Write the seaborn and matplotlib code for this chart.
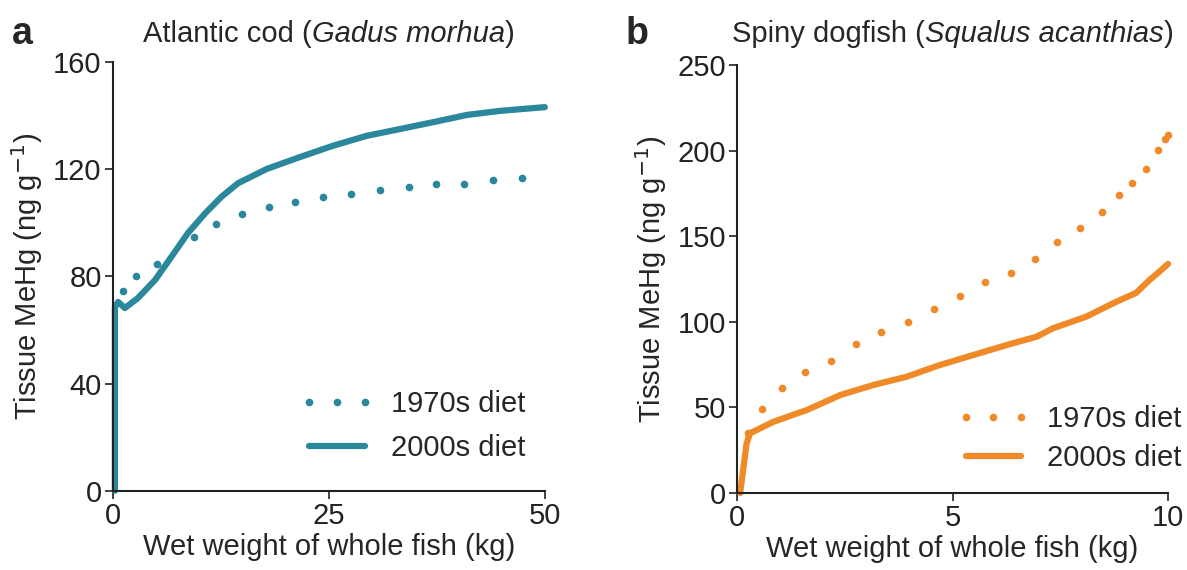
import pandas as pd
import seaborn as sns
import matplotlib.pyplot as plt

sns.set_style("ticks")
plt.rcParams['font.family'] = ['Liberation Sans', 'DejaVu Sans']
plt.rcParams['font.size'] = 21

teal = "#2a879c"
orange = "#f08a28"

# Atlantic cod - 1970s diet (dots)
cod_1970_x = [1.2, 2.7, 5.1, 9.4, 12.0, 15.0, 18.1, 21.1, 24.3, 27.6, 30.9, 34.3, 37.4, 40.7, 44.0, 47.4]
cod_1970_y = [74.4, 80.3, 84.7, 94.9, 99.6, 103.4, 106.1, 107.7, 109.6, 110.8, 112.3, 113.3, 114.6, 114.6, 116.0, 116.8]

# Atlantic cod - 2000s diet (solid)
cod_2000_x = [0.25, 0.25, 0.62, 1.4, 2.9, 4.9, 6.8, 8.7, 10.7, 12.6, 14.5, 17.8, 21.6, 25.5, 29.4, 33.2, 37.1, 41.0, 44.8, 50.0]
cod_2000_y = [0.0, 68.6, 70.5, 68.2, 71.9, 78.7, 87.4, 96.2, 103.6, 109.8, 114.8, 120.1, 124.5, 128.8, 132.5, 135.0, 137.6, 140.3, 141.8, 143.2]

# Spiny dogfish - 1970s diet (dots)
dog_1970_x = [0.26, 0.57, 1.04, 1.58, 2.18, 2.75, 3.35, 3.97, 4.58, 5.17, 5.75, 6.35, 6.92, 7.42, 7.95, 8.47, 8.87, 9.16, 9.48, 9.77, 9.92, 10.0]
dog_1970_y = [35.0, 49.1, 61.2, 70.9, 77.3, 86.9, 93.9, 100.1, 107.3, 115.1, 123.1, 128.3, 136.7, 146.8, 155.0, 164.1, 174.1, 180.9, 189.1, 200.4, 206.6, 209.1]

# Spiny dogfish - 2000s diet (solid)
dog_2000_x = [0.07, 0.22, 0.3, 0.84, 1.62, 2.39, 3.16, 3.93, 4.71, 5.48, 6.25, 6.95, 7.33, 8.10, 8.80, 9.26, 9.57, 9.80, 10.0]
dog_2000_y = [0.0, 29.0, 34.9, 41.6, 48.5, 57.2, 63.1, 67.9, 74.8, 80.6, 86.4, 91.3, 96.2, 103.0, 111.7, 116.9, 124.4, 129.3, 133.8]

panels = [
    dict(letter="a", title=["Atlantic cod (", "Gadus morhua", ")"], color=teal,
         dots=(cod_1970_x, cod_1970_y), line=(cod_2000_x, cod_2000_y),
         xlim=(0, 50), xticks=[0, 25, 50], ylim=(0, 160), yticks=[0, 40, 80, 120, 160],
         rect=[0.095, 0.139, 0.364, 0.752], letter_x=0.010,
         leg_anchor=(1.016, 0.005), leg_spacing=0.55),
    dict(letter="b", title=["Spiny dogfish (", "Squalus acanthias", ")"], color=orange,
         dots=(dog_1970_x, dog_1970_y), line=(dog_2000_x, dog_2000_y),
         xlim=(0, 10), xticks=[0, 5, 10], ylim=(0, 250), yticks=[0, 50, 100, 150, 200, 250],
         rect=[0.621, 0.135, 0.363, 0.751], letter_x=0.527,
         leg_anchor=(1.093, -0.012), leg_spacing=0.38),
]

fig = plt.figure(figsize=(11.87, 5.70), dpi=100)

for p in panels:
    ax = fig.add_axes(p["rect"])
    dots = pd.DataFrame({"x": p["dots"][0], "y": p["dots"][1]})
    line = pd.DataFrame({"x": p["line"][0], "y": p["line"][1]})
    sns.lineplot(data=dots, x="x", y="y", ax=ax, color=p["color"], linestyle="none",
                 marker="o", markersize=5.5, markeredgewidth=0, label="1970s diet",
                 sort=False, estimator=None)
    sns.lineplot(data=line, x="x", y="y", ax=ax, color=p["color"], linewidth=4.5,
                 label="2000s diet", sort=False, estimator=None, solid_capstyle="round")
    ax.set_xlim(p["xlim"])
    ax.set_ylim(p["ylim"])
    ax.set_xticks(p["xticks"])
    ax.set_yticks(p["yticks"])
    ax.set_xlabel("Wet weight of whole fish (kg)", fontsize=21, labelpad=2)
    ax.set_ylabel("Tissue MeHg (ng g$^{-1}$)", fontsize=21, labelpad=6)
    ax.tick_params(labelsize=21, length=6, width=1.2, colors="#222222", pad=2)
    for s in ["left", "bottom"]:
        ax.spines[s].set_linewidth(1.5)
        ax.spines[s].set_color("#222222")
    sns.despine(ax=ax)
    for ln in ax.lines:
        ln.set_clip_on(False)
    ax.legend(loc="lower right", frameon=False, numpoints=3, handlelength=2.5,
              handletextpad=0.6, labelspacing=p["leg_spacing"], fontsize=21,
              bbox_to_anchor=p["leg_anchor"])

    # panel letter and title (italic species name)
    bb = ax.get_position()
    fig.text(p["letter_x"], 0.94, p["letter"], fontsize=27, fontweight="bold", va="center")
    cx = bb.x0 + bb.width * 0.5
    full = fig.text(cx, 0.94, "".join(p["title"]), fontsize=21, va="center",
                    ha="center", alpha=0)
    fig.canvas.draw()
    x = full.get_window_extent().x0 / fig.bbox.width
    full.remove()
    for part, style in zip(p["title"], ["normal", "italic", "normal"]):
        t = fig.text(x, 0.94, part, fontsize=21, va="center", style=style)
        fig.canvas.draw()
        x = t.get_window_extent().x1 / fig.bbox.width

fig.savefig("out.png", dpi=100)
